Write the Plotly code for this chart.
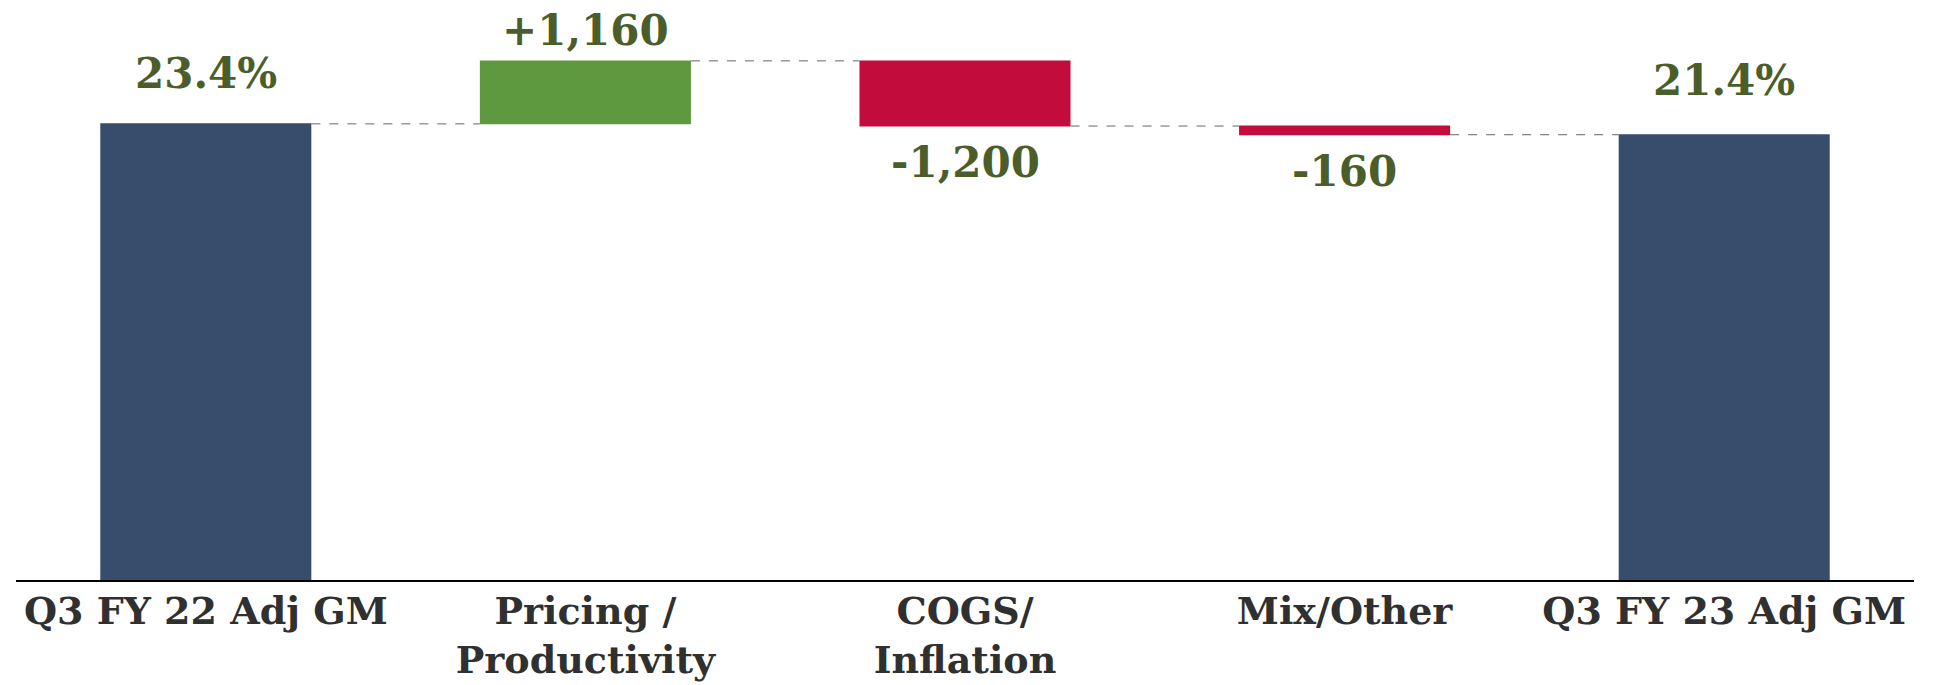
import plotly.graph_objects as go

# ---- data ----
categories = ["Q3 FY 22 Adj GM", "Pricing /<br>Productivity", "COGS/<br>Inflation", "Mix/Other", "Q3 FY 23 Adj GM"]
start_bps = 2340          # 23.4 %
deltas_bps = [1160, -1200, -160]
measures = ["absolute", "relative", "relative", "relative", "total"]

# ---- styling ----
FLOOR = -6060             # value at the chart's baseline (axis is not zero-based)
TOP = 4437
NAVY = "#374d6c"
GREEN = "#5f993f"
RED = "#c20c3c"
LABEL_GREEN = "#4b5e2a"
FONT = "DejaVu Serif"

y_vals = [start_bps - FLOOR] + deltas_bps + [0]

fig = go.Figure(go.Waterfall(
    x=categories,
    y=y_vals,
    measure=measures,
    base=FLOOR,
    totals=dict(marker=dict(color=NAVY, line=dict(width=0))),
    increasing=dict(marker=dict(color=GREEN, line=dict(width=0))),
    decreasing=dict(marker=dict(color=RED, line=dict(width=0))),
    connector=dict(mode="between", line=dict(color="#666666", width=1, dash="dash")),
    hoverinfo="skip",
    textinfo="none",
))

end_bps = start_bps + sum(deltas_bps)

annots = []
annots.append(dict(x=categories[0], y=start_bps, text=f"{start_bps/100:.1f}%",
                   yanchor="bottom", yshift=24))
prev = start_bps
for i, d in enumerate(deltas_bps):
    cur = prev + d
    txt = f"{d:+,}"
    if d >= 0:
        annots.append(dict(x=categories[i + 1], y=cur, text=txt, yanchor="bottom", yshift=4))
    else:
        annots.append(dict(x=categories[i + 1], y=cur, text=txt, yanchor="top", yshift=-10))
    prev = cur
annots.append(dict(x=categories[-1], y=end_bps, text=f"{end_bps/100:.1f}%",
                   yanchor="bottom", yshift=28))
for a in annots:
    a.update(showarrow=False, xanchor="center",
             font=dict(family=FONT, size=42, color=LABEL_GREEN, weight="bold"))

fig.update_layout(
    width=1938, height=685,
    margin=dict(l=16, r=24, t=10, b=105),
    paper_bgcolor="white", plot_bgcolor="white",
    waterfallgap=0.444,
    showlegend=False,
    annotations=annots,
    xaxis=dict(showline=True, linecolor="black", linewidth=2, ticks="",
               showgrid=False, zeroline=False, automargin=False,
               ticklabelstandoff=-4,
               tickfont=dict(family=FONT, size=38, color="#303030", weight="bold")),
    yaxis=dict(visible=False, range=[FLOOR, TOP], showgrid=False, zeroline=False,
               automargin=False),
)

fig.write_html("out.html")
